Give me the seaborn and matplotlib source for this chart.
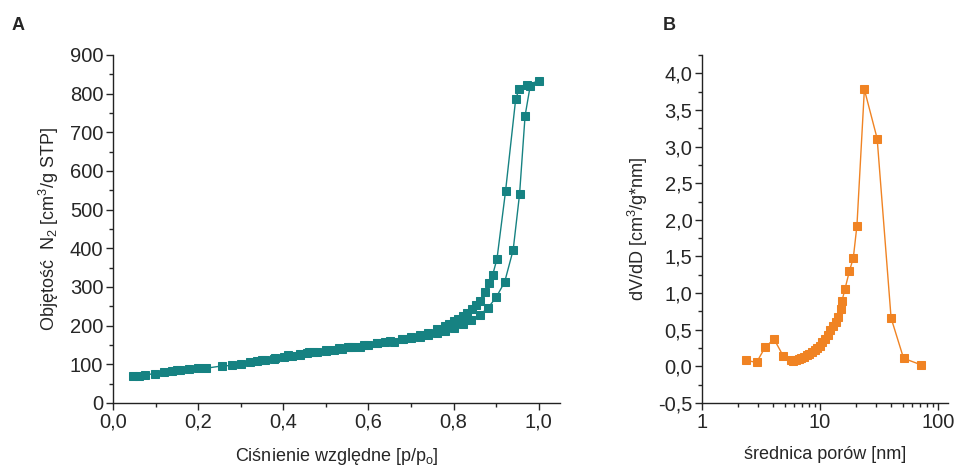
import numpy as np
import pandas as pd
import matplotlib
matplotlib.use("Agg")
import matplotlib.pyplot as plt
from matplotlib.ticker import MultipleLocator, FuncFormatter, LogLocator, NullFormatter, FixedLocator
import seaborn as sns

# ---- Panel A data: N2 isotherm (adsorption then desorption) ----
ads_p = [0.046, 0.061, 0.076, 0.099, 0.12, 0.139, 0.151, 0.158, 0.179, 0.2, 0.219, 0.257, 0.28,
         0.30, 0.322, 0.339, 0.356, 0.379, 0.402, 0.421, 0.44, 0.455, 0.461, 0.48, 0.5, 0.52,
         0.539, 0.551, 0.562, 0.581, 0.6, 0.621, 0.64, 0.661, 0.682, 0.701, 0.722, 0.741,
         0.762, 0.781, 0.8, 0.821, 0.841, 0.861, 0.88, 0.9, 0.92, 0.94, 0.955, 0.968, 0.98, 1.0]
ads_v = [69, 69, 73, 76, 79, 83, 85, 85, 88, 90, 90, 96, 97,
         101, 105, 108, 111, 115, 118, 122, 125, 129, 131, 132, 135, 137,
         140, 144, 144, 146, 151, 154, 157, 159, 165, 168, 170, 177,
         181, 187, 194, 205, 214, 228, 245, 273, 313, 396, 540, 743, 820, 833]
des_p = [0.973, 0.954, 0.946, 0.922, 0.902, 0.892, 0.884, 0.874, 0.861, 0.853, 0.843, 0.832,
         0.821, 0.81, 0.802, 0.79, 0.78, 0.76, 0.74, 0.72, 0.70, 0.68, 0.65, 0.62, 0.59,
         0.56, 0.53, 0.50, 0.47, 0.44, 0.41, 0.38, 0.35]
des_v = [823, 811, 787, 547, 373, 332, 310, 287, 265, 254, 243, 233,
         226, 217, 211, 205, 200, 191, 182, 176, 171, 166, 160, 156, 150,
         146, 141, 137, 133, 128, 123, 117, 112]

# ---- Panel B data: pore size distribution ----
pore_d = [2.34, 2.90, 3.42, 4.07, 4.86, 5.67, 5.95, 6.27, 6.6, 6.95, 7.3, 7.7, 8.1, 8.5, 8.98,
          9.45, 9.9, 10.4, 11.0, 11.6, 12.2, 12.8, 13.5, 14.2, 15.0, 15.3, 16.2, 17.7, 19.1,
          20.5, 23.7, 30.4, 39.9, 50.9, 71.8]
dvdd = [0.082, 0.055, 0.259, 0.373, 0.145, 0.082, 0.08, 0.09, 0.10, 0.11, 0.13, 0.15, 0.17, 0.20, 0.22,
        0.25, 0.28, 0.33, 0.37, 0.43, 0.49, 0.55, 0.61, 0.68, 0.78, 0.89, 1.05, 1.30, 1.48,
        1.92, 3.78, 3.11, 0.66, 0.11, 0.02]

df_a = pd.DataFrame({"p": ads_p + des_p, "v": ads_v + des_v})
df_b = pd.DataFrame({"d": pore_d, "y": dvdd})

sns.set_style("ticks")
plt.rcParams["font.family"] = ["Liberation Sans", "DejaVu Sans"]
plt.rcParams["xtick.major.size"] = 5
plt.rcParams["ytick.major.size"] = 5
plt.rcParams["xtick.minor.size"] = 3
plt.rcParams["ytick.minor.size"] = 3
plt.rcParams["axes.linewidth"] = 1.0
plt.rcParams["axes.edgecolor"] = "#222222"

teal = "#168282"
orange = "#f08323"

fig = plt.figure(figsize=(9.6, 4.68), dpi=100)
axA = fig.add_axes([113/960, 1-403/468, (560-113)/960, (403-55)/468])
axB = fig.add_axes([702/960, 1-403/468, (948-702)/960, (403-55)/468])

sns.lineplot(data=df_a, x="p", y="v", ax=axA, sort=False, estimator=None, color=teal,
             marker="s", markersize=6, markeredgecolor=teal, linewidth=1.0)
sns.lineplot(data=df_b, x="d", y="y", ax=axB, sort=False, estimator=None, color=orange,
             marker="s", markersize=6, markeredgecolor=orange, linewidth=1.0)

comma = FuncFormatter(lambda v, pos: f"{v:.1f}".replace(".", ","))

axA.set_xlim(0, 1.05)
axA.set_ylim(0, 900)
axA.xaxis.set_major_locator(FixedLocator([0, 0.2, 0.4, 0.6, 0.8, 1.0]))
axA.xaxis.set_minor_locator(MultipleLocator(0.1))
axA.yaxis.set_major_locator(MultipleLocator(100))
axA.yaxis.set_minor_locator(MultipleLocator(50))
axA.xaxis.set_major_formatter(comma)
axA.set_xlabel("Ciśnienie względne [p/p$_\\mathregular{o}$]", fontsize=13, labelpad=10)
axA.set_ylabel("Objętość  N$_\\mathregular{2}$ [cm$^\\mathregular{3}$/g STP]", fontsize=13, labelpad=6)

axB.set_xscale("log")
axB.set_xlim(1, 121)
axB.set_ylim(-0.5, 4.25)
axB.xaxis.set_major_locator(LogLocator(base=10))
axB.xaxis.set_minor_locator(LogLocator(base=10, subs=np.arange(2, 10)))
axB.xaxis.set_minor_formatter(NullFormatter())
axB.xaxis.set_major_formatter(FuncFormatter(lambda v, pos: f"{v:g}"))
axB.yaxis.set_major_locator(MultipleLocator(0.5))
axB.yaxis.set_minor_locator(MultipleLocator(0.25))
axB.yaxis.set_major_formatter(comma)
axB.set_xlabel("średnica porów [nm]", fontsize=13, labelpad=10)
axB.set_ylabel("dV/dD [cm$^\\mathregular{3}$/g*nm]", fontsize=13, labelpad=6)

for ax in (axA, axB):
    sns.despine(ax=ax)
    ax.tick_params(axis="both", which="major", labelsize=14.5, direction="out", width=1, pad=2)
    ax.tick_params(axis="both", which="minor", direction="out", width=1)

fig.text(12/960, 1-25/468, "A", fontsize=13, fontweight="bold", va="center", ha="left")
fig.text(663/960, 1-25/468, "B", fontsize=13, fontweight="bold", va="center", ha="left")

fig.savefig("out.png", dpi=100)
